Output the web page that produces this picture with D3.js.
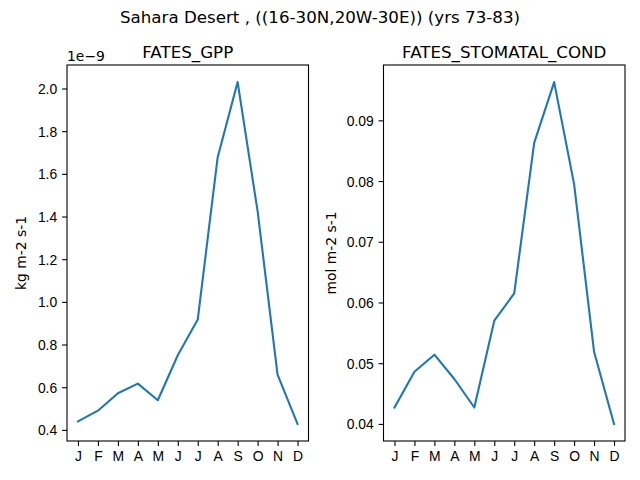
<!DOCTYPE html>
<html>
<head>
<meta charset="utf-8">
<script src="https://cdn.jsdelivr.net/npm/d3@7"></script>
<style>
  body { margin: 0; background: #fff; }
  svg { display: block; font-family: "DejaVu Sans", sans-serif; }
  .tick text { font-size: 13.9px; fill: #000; }
</style>
</head>
<body>
<div id="chart"></div>
<script>
var months = ["J", "F", "M", "A", "M", "J", "J", "A", "S", "O", "N", "D"];

// FATES_GPP, in units of 1e-9 kg m-2 s-1
var gpp = [0.440, 0.490, 0.572, 0.617, 0.539, 0.750, 0.917, 1.678, 2.030, 1.425, 0.659, 0.428];

// FATES_STOMATAL_COND, mol m-2 s-1
var stomatal = [0.0427, 0.0486, 0.0514, 0.0474, 0.0427, 0.0570, 0.0615, 0.0863, 0.0963, 0.0795, 0.0519, 0.0400];

var gppTicks = [0.4, 0.6, 0.8, 1.0, 1.2, 1.4, 1.6, 1.8, 2.0];
var condTicks = [0.04, 0.05, 0.06, 0.07, 0.08, 0.09];

var width = 640, height = 480;

var svg = d3.select("#chart").append("svg")
    .attr("width", width)
    .attr("height", height);

svg.append("text")
    .attr("x", 320)
    .attr("y", 22.5)
    .attr("text-anchor", "middle")
    .style("font-size", "16.7px")
    .text("Sahara Desert , ((16-30N,20W-30E)) (yrs 73-83)");

function panel(opts) {
    var left = opts.left, right = opts.left + 241.5, top = 65, bottom = 441;

    var x = d3.scaleLinear()
        .domain([-0.55, 11.55])
        .range([left, right]);

    var lo = d3.min(opts.values), hi = d3.max(opts.values), pad = (hi - lo) * 0.05;
    var y = d3.scaleLinear()
        .domain([lo - pad, hi + pad])
        .range([bottom, top]);

    var g = svg.append("g");

    var xAxis = d3.axisBottom(x)
        .tickValues(d3.range(12))
        .tickFormat(i => months[i])
        .tickSize(4.9)
        .tickPadding(4.9);

    var yAxis = d3.axisLeft(y)
        .tickValues(opts.ticks)
        .tickFormat(opts.format)
        .tickSize(4.9)
        .tickPadding(4.9);

    var gx = g.append("g")
        .attr("transform", "translate(0," + bottom + ")")
        .call(xAxis);
    gx.select(".domain").remove();
    gx.selectAll(".tick line").attr("stroke", "#000").attr("stroke-width", 1.1);

    var gy = g.append("g")
        .attr("transform", "translate(" + left + ",0)")
        .call(yAxis);
    gy.select(".domain").remove();
    gy.selectAll(".tick line").attr("stroke", "#000").attr("stroke-width", 1.1);
    gy.selectAll(".tick text").attr("dy", "0.36em");

    var line = d3.line()
        .x((d, i) => x(i))
        .y(d => y(d));

    g.append("path")
        .datum(opts.values)
        .attr("d", line)
        .attr("fill", "none")
        .attr("stroke", "#1f77b4")
        .attr("stroke-width", 2.1)
        .attr("stroke-linejoin", "round")
        .attr("stroke-linecap", "square");

    g.append("rect")
        .attr("x", left)
        .attr("y", top)
        .attr("width", right - left)
        .attr("height", bottom - top)
        .attr("fill", "none")
        .attr("stroke", "#000")
        .attr("stroke-width", 1.1);

    g.append("text")
        .attr("x", (left + right) / 2)
        .attr("y", 57.5)
        .attr("text-anchor", "middle")
        .style("font-size", "16.7px")
        .text(opts.title);

    g.append("text")
        .attr("transform", "translate(" + opts.labelX + "," + (top + bottom) / 2 + ") rotate(-90)")
        .attr("text-anchor", "middle")
        .style("font-size", "13.9px")
        .text(opts.unit);

    if (opts.offset) {
        g.append("text")
            .attr("x", left)
            .attr("y", 61)
            .style("font-size", "13.9px")
            .text(opts.offset);
    }
}

panel({
    left: 67,
    values: gpp,
    ticks: gppTicks,
    format: d3.format(".1f"),
    title: "FATES_GPP",
    unit: "kg m-2 s-1",
    labelX: 26,
    offset: "1e\u22129"
});

panel({
    left: 383.5,
    values: stomatal,
    ticks: condTicks,
    format: d3.format(".2f"),
    title: "FATES_STOMATAL_COND",
    unit: "mol m-2 s-1",
    labelX: 336
});
</script>
</body>
</html>
